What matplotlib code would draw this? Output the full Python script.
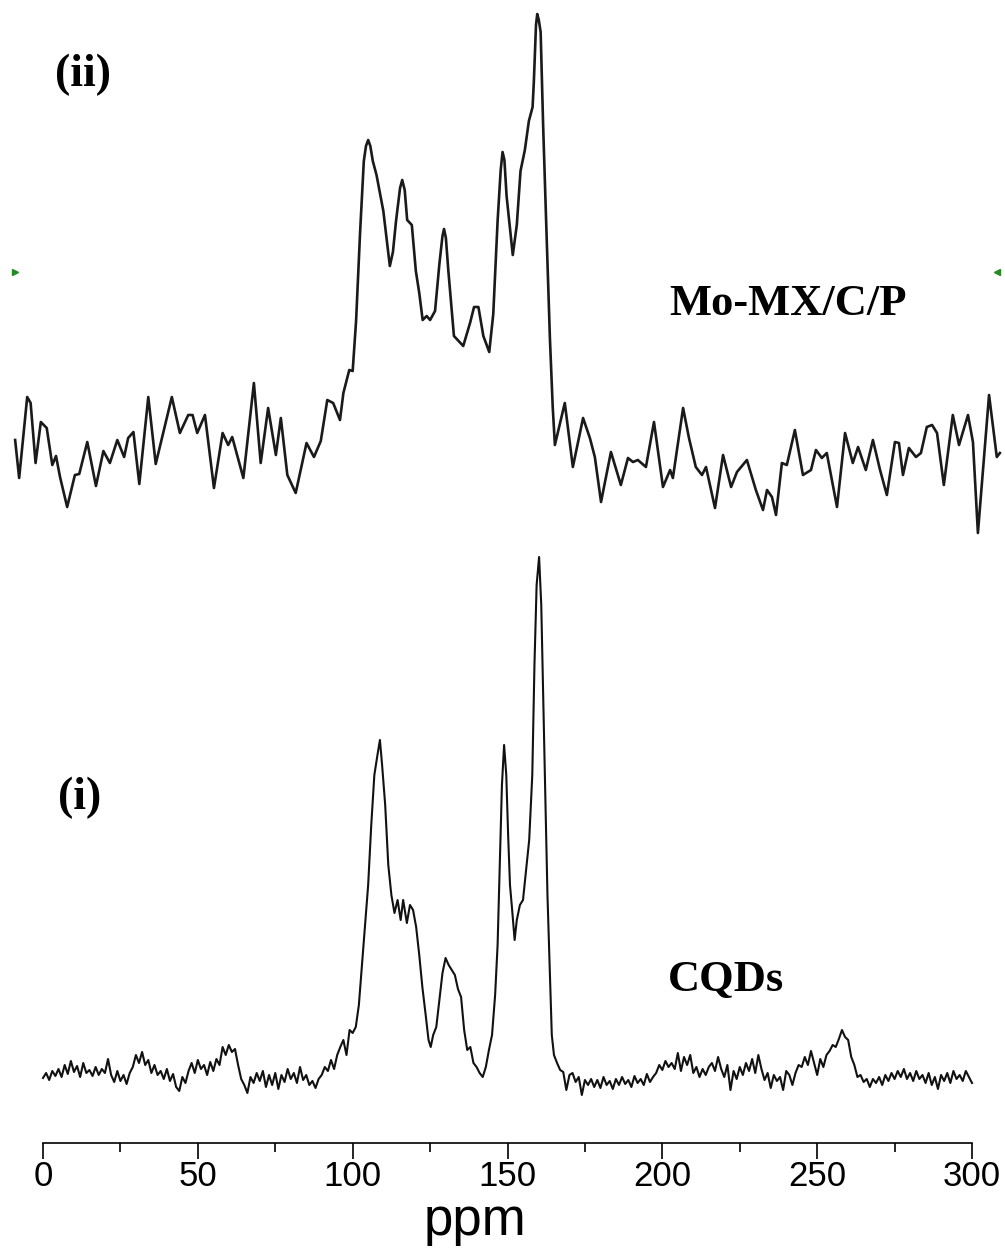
import numpy as np
import matplotlib
matplotlib.use('Agg')
import matplotlib.pyplot as plt
from matplotlib.ticker import MultipleLocator

# ----------------------------------------------------------------------
# (ii) Mo-MX/C/P  -- chemical shift (ppm) and intensity (a.u.)
# ----------------------------------------------------------------------
mx_ppm = [-9.0, -7.7, -5.1, -4.0, -2.4, -0.7, 1.2, 3.0, 4.2, 5.5, 7.8, 10.3, 11.7,
          14.3, 17.1, 19.5, 21.6, 24.0, 26.2, 27.5, 29.2, 31.1, 34.0, 36.4, 41.6,
          44.2, 46.9, 48.3, 49.8, 52.3, 55.2, 58.0, 59.8, 61.1, 64.7, 68.1, 70.3,
          72.7, 75.2, 76.8, 78.9, 81.6, 85.1, 87.5, 89.7, 91.8, 93.7, 95.9, 97.0,
          98.9, 100.0, 101.1, 102.4, 103.6, 104.3, 105.0, 105.7, 106.5, 107.7,
          109.9, 112.0, 113.0, 114.0, 115.3, 116.0, 116.8, 117.6, 119.1, 120.4,
          121.5, 122.6, 123.9, 125.0, 126.6, 128.0, 129.0, 129.5, 130.1, 130.9,
          132.7, 135.7, 137.9, 139.2, 140.6, 142.2, 144.1, 145.4, 146.8, 147.8,
          148.4, 149.0, 149.7, 151.7, 153.0, 154.2, 155.6, 156.9, 158.1, 158.5,
          159.2, 159.6, 160.1, 160.7, 161.5, 162.4, 163.7, 164.6, 165.3, 168.5,
          171.1, 174.4, 176.6, 178.2, 180.2, 183.4, 186.6, 188.9, 190.5, 192.1,
          194.7, 197.3, 200.2, 202.5, 203.4, 206.7, 208.6, 210.8, 212.8, 214.1,
          217.0, 219.6, 222.2, 224.1, 227.3, 230.2, 232.5, 233.8, 235.4, 236.7,
          238.6, 240.2, 242.8, 245.4, 248.0, 249.6, 251.5, 253.1, 256.4, 259.0,
          261.5, 263.2, 265.7, 268.0, 270.3, 272.5, 275.1, 276.4, 277.7, 279.6,
          281.9, 283.5, 285.4, 287.1, 288.7, 290.9, 293.8, 295.8, 298.7, 300.3,
          301.9, 305.5, 308.0, 309.0]
mx_int = [80, 42, 123, 117, 57, 98, 92, 55, 64, 43, 13, 45, 46,
          78, 34, 69, 57, 80, 63, 82, 88, 36, 123, 56, 123,
          87, 105, 105, 87, 105, 32, 87, 75, 83, 42, 137, 57,
          112, 65, 102, 45, 27, 77, 63, 79, 120, 117, 100, 127,
          150, 149, 199, 288, 359, 374, 380, 374, 359, 345,
          309, 254, 268, 299, 332, 340, 330, 300, 295, 249,
          227, 200, 204, 200, 209, 256, 284, 291, 282, 249,
          184, 174, 197, 213, 213, 184, 168, 206, 299, 350,
          368, 360, 324, 265, 295, 349, 370, 399, 413, 438,
          495, 506, 500, 488, 395, 306, 181, 113, 75, 117,
          53, 102, 82, 63, 18, 68, 35, 62, 58, 60,
          53, 98, 33, 50, 42, 112, 82, 53, 45, 53,
          12, 65, 33, 48, 60, 30, 10, 30, 23, 5,
          57, 55, 90, 45, 50, 70, 62, 67, 13, 87,
          57, 73, 50, 80, 50, 25, 78, 77, 45, 72,
          63, 67, 93, 95, 87, 35, 105, 75, 105, 78,
          -13, 125, 63, 67]

# ----------------------------------------------------------------------
# (i) CQDs
# ----------------------------------------------------------------------
cqd_base_left = [7, 12, 5, 14, 9, 16, 8, 20, 11, 24, 13, 19, 8, 22, 12, 15, 9, 18,
                 10, 16, 12, 26, 10, 3, 14, 4, 10, 1, 12, 18, 30, 22, 33, 20, 25,
                 12, 20, 10, 14, 6, 16, 4, 11, -2, -6, 8, 2, 14, 22, 12, 25, 16,
                 20, 10, 23, 14, 26, 20, 38, 30, 40, 33, 36, 20, 6, 0, -8, 8, 2,
                 12, 4, 14, -2, 10, 0, 12, -4, 10, 3, 16, 6, 12, 2, 18, 5, 10, 0,
                 4, -3, 6, 10, 18, 14, 25, 16, 30, 38, 45, 30, 55, 52, 58]   # 0..101 ppm
cqd_peak_ppm = [102, 103, 104, 105, 106, 107, 108, 108.8, 109.5, 110.5, 111.5,
                112.5, 113.5, 114.5, 115.5, 116.3, 117.5, 118.5, 119.5, 120.5,
                121.5, 122.5, 123.5, 124.5, 125.2, 126, 127, 128, 129, 130, 131,
                132, 133, 134, 135, 136, 137, 138, 139, 140, 141, 142, 143, 144,
                145, 146, 146.8, 147.5, 148.2, 148.9, 149.6, 150.2, 150.8, 151.5,
                152.3, 153, 154, 155, 156, 157, 158, 158.7, 159.4, 160.2, 160.9,
                161.5, 162.2, 162.9, 163.6, 164.3, 165, 166, 167, 168]
cqd_peak_int = [80, 120, 160, 200, 260, 310, 330, 345, 320, 280, 220,
                190, 172, 185, 165, 185, 162, 180, 175, 158,
                130, 98, 72, 45, 38, 50, 58, 85, 112, 127, 120,
                115, 110, 96, 88, 55, 35, 38, 22, 18, 12, 8, 18, 35,
                50, 90, 140, 220, 300, 340, 310, 250, 200, 175,
                145, 165, 180, 185, 215, 245, 310, 420, 500, 528, 480,
                390, 290, 190, 120, 50, 30, 22, 15, 13]
cqd_base_right = [-5, 10, 12, 3, 8, -10, 5, 0, 6, -2, 5, -3, 8, 0, 4, -4, 6, 0, 8,
                  1, 5, -2, 9, 2, 6, 0, 11, 3, 8, 12, 20, 15, 24, 18, 22, 16, 32,
                  14, 28, 20, 30, 12, 18, 8, 16, 10, 18, 22, 14, 28, 16, 8, 20,
                  -5, 14, 6, 18, 10, 22, 14, 26, 12, 30, 16, 5, 12, -3, 10, 4, 8,
                  -5, 14, 10, 0, 12, 20, 18, 28, 20, 34, 22, 10, 26, 18, 30, 34,
                  40, 38, 46, 55, 48, 45, 28, 20, 8, 10, 3, 6, -2, 6, 2, 8, 0, 10,
                  4, 12, 6, 14, 8, 16, 6, 12, 4, 14, 6, 10, 2, 12, 0, 8, -4, 10, 4,
                  12, 2, 14, 6, 10, 4, 14, 8, 2]   # 169..300 ppm

cqd_ppm = list(range(0, 102)) + cqd_peak_ppm + list(range(169, 301))
cqd_int = cqd_base_left + cqd_peak_int + cqd_base_right

# vertical stacking offsets of the two spectra
OFF_MX = 623
OFF_CQD = 58

fig = plt.figure(figsize=(10.05, 12.59), dpi=100)
ax = fig.add_axes([0, 0.09214, 1, 0.90786])

ax.plot(mx_ppm, np.array(mx_int) + OFF_MX, color='#1a1a1a', lw=1.9,
        solid_joinstyle='round')
ax.plot(cqd_ppm, np.array(cqd_int) + OFF_CQD, color='#111111', lw=1.5)

# small green layer markers
ax.plot([-9.0], [871], marker='>', color='#228b22', ms=4, clip_on=False)
ax.plot([308.1], [871], marker='<', color='#228b22', ms=4, clip_on=False)

serif = ['Liberation Serif', 'DejaVu Serif']
ax.text(12.9, 1068, '(ii)', fontsize=33, fontweight='bold', family=serif,
        ha='center', va='center')
ax.text(11.8, 345, '(i)', fontsize=33, fontweight='bold', family=serif,
        ha='center', va='center')
ax.text(240.6, 839, 'Mo-MX/C/P', fontsize=32, fontweight='bold', family=serif,
        ha='center', va='center')
ax.text(220.6, 163, 'CQDs', fontsize=32, fontweight='bold', family=serif,
        ha='center', va='center')

ax.set_xlim(-13.886, 310.65)
ax.set_ylim(0, 1143)

for s in ['top', 'left', 'right']:
    ax.spines[s].set_visible(False)
ax.spines['bottom'].set_bounds(0, 300)
ax.spines['bottom'].set_linewidth(1.2)
ax.patch.set_alpha(0)

sans = ['Liberation Sans']
ax.xaxis.set_major_locator(MultipleLocator(50))
ax.xaxis.set_minor_locator(MultipleLocator(25))
ax.tick_params(axis='x', which='major', length=11.5, width=1.2, pad=0.5,
               labelsize=25, direction='out')
ax.tick_params(axis='x', which='minor', length=6.5, width=1.2, direction='out')
for lab in ax.get_xticklabels():
    lab.set_family(sans)
ax.set_yticks([])
ax.set_xlabel('ppm', fontsize=38, family=sans)
ax.xaxis.set_label_coords(0.4726, -0.046)

fig.savefig('out.png', dpi=100)
